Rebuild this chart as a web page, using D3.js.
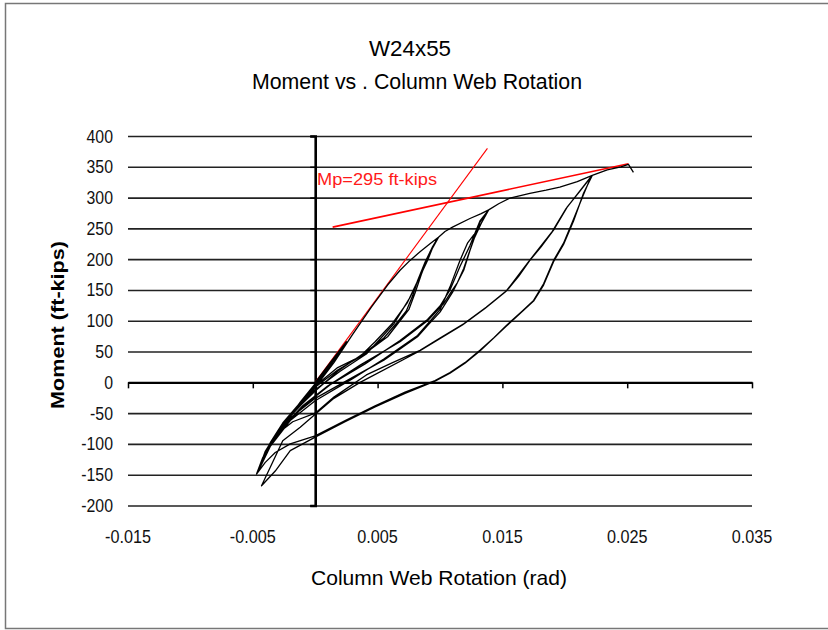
<!DOCTYPE html>
<html>
<head>
<meta charset="utf-8">
<script src="https://cdn.jsdelivr.net/npm/d3@7"></script>
<style>
  body { margin: 0; background: #fff; }
  svg { display: block; }
  text { font-family: "Liberation Sans", Arial, sans-serif; fill: #111; }
</style>
</head>
<body>
<div id="chart"></div>
<script>
// axis ticks
const xTicks = [-0.015, -0.005, 0.005, 0.015, 0.025, 0.035];
const yTicks = [-200, -150, -100, -50, 0, 50, 100, 150, 200, 250, 300, 350, 400];

// test history: column web rotation (rad) and moment (ft-kips), in load order
const rotation = [
  0, 0.0012, 0.0025, 0.0012, 0, -0.0012, -0.0022, -0.0012, 0, 0.0013, 0.0025,
  0.0012, 0, -0.0012, -0.0023, -0.0012, 0, 0.0015,
  0.003, 0.0045, 0.0058, 0.0068, 0.0076, 0.0084, 0.0092, 0.0099,
  0.0094, 0.009, 0.0083, 0.0076, 0.0063, 0.005, 0.0041, 0.002, 0, -0.0015, -0.0026, -0.0036, -0.0042, -0.0047,
  -0.0041, -0.0036, -0.0026, -0.0015, 0, 0.0018, 0.0036, 0.0055, 0.0066, 0.0073, 0.0078, 0.0082, 0.0088, 0.0094, 0.0098,
  0.0093, 0.0088, 0.0081, 0.0074, 0.0062, 0.0048, 0.0038, 0.0018, 0, -0.0016, -0.0028, -0.0038, -0.0046,
  -0.004, -0.0034, -0.0024, -0.0013, 0, 0.0018, 0.0038, 0.0058, 0.0068, 0.0075, 0.008, 0.0085, 0.0092, 0.0099,
  0.0104, 0.011, 0.0124, 0.0133, 0.0139,
  0.0133, 0.0127, 0.0119, 0.0114, 0.011, 0.01, 0.009, 0.0082, 0.0068, 0.0055, 0.003, 0, -0.002, -0.0036, -0.0047,
  -0.004, -0.0032, -0.002, -0.001, 0.001, 0.0036, 0.0068, 0.009, 0.0103, 0.011, 0.0114, 0.0119, 0.0124, 0.0132, 0.0138,
  0.0131, 0.0122, 0.0116, 0.0108, 0.01, 0.0082, 0.0055, 0.003, 0, -0.002, -0.0036, -0.0046,
  -0.004, -0.0031, -0.002, -0.0008, 0.0012, 0.004, 0.0068, 0.009, 0.01, 0.0108, 0.0116, 0.0124, 0.0132, 0.0139,
  0.0147, 0.0156, 0.0172, 0.0185, 0.0196, 0.021, 0.0222,
  0.0212, 0.0202, 0.0191, 0.0181, 0.0172, 0.0163, 0.0154, 0.0137, 0.0119, 0.01, 0.0084, 0.0062, 0.0041, 0.0015, 0, -0.0018, -0.0028, -0.0036, -0.0042, -0.0047,
  -0.004, -0.0032, -0.002, 0, 0.0024, 0.0048, 0.0072, 0.0096, 0.0108, 0.0120, 0.0132, 0.0143, 0.0153, 0.0166, 0.0175, 0.0183, 0.0191, 0.0199, 0.0206, 0.0215, 0.0221,
  0.0211, 0.0201, 0.019, 0.0171, 0.0153, 0.0136, 0.0118, 0.0083, 0.0036, 0.0015, 0, -0.0012, -0.0026, -0.0036, -0.0043,
  -0.0032, -0.002, 0, 0.0024, 0.0048, 0.0072, 0.0096, 0.0108, 0.012, 0.0132, 0.0153, 0.0175, 0.0183, 0.0191, 0.0199, 0.0207, 0.0215, 0.0222,
  0.0234, 0.0245, 0.0251, 0.0255
];
const moment = [
  0, 32, 66, 30, -2, -32, -60, -36, -6, 30, 64,
  28, -4, -34, -62, -38, -8, 32,
  78, 122, 158, 182, 198, 212, 225, 236,
  218, 198, 168, 138, 95, 66, 46, 18, -12, -42, -68, -100, -122, -149,
  -118, -98, -66, -40, -6, 24, 42, 72, 98, 116, 140, 165, 195, 220, 234,
  214, 190, 160, 130, 96, 66, 46, 18, -14, -46, -76, -108, -145,
  -112, -92, -62, -38, -8, 20, 44, 74, 100, 118, 145, 175, 212, 236,
  245, 252, 266, 274, 280,
  258, 232, 185, 162, 146, 114, 92, 74, 54, 36, 8, -26, -58, -102, -149,
  -116, -88, -60, -38, -6, 28, 66, 100, 128, 150, 162, 182, 214, 260, 278,
  250, 226, 198, 155, 118, 76, 38, 6, -30, -62, -104, -146,
  -114, -86, -62, -36, -4, 30, 68, 102, 124, 150, 188, 222, 262, 280,
  290, 299, 307, 312, 317, 326, 336,
  310, 285, 247, 220, 198, 172, 150, 122, 95, 72, 52, 32, 12, -24, -50, -64, -80, -102, -126, -149,
  -130, -114, -100, -87, -62, -38, -16, 3, 16, 32, 52, 72, 92, 116, 133, 160, 198, 226, 260, 305, 334,
  308, 282, 245, 196, 148, 120, 93, 50, 0, -26, -52, -73, -95, -138, -168,
  -144, -111, -89, -64, -40, -18, 2, 15, 31, 51, 91, 132, 158, 196, 224, 262, 307, 336,
  345, 350, 354, 341
];

// red reference lines
const elasticLine = [[0, 0], [0.0138, 380]];
const plasticLine = [[0.0014, 252], [0.0251, 355]];
const plasticLabel = "Mp=295 ft-kips";

const W = 828, H = 630;
const svg = d3.select("#chart").append("svg")
  .attr("width", W).attr("height", H);

// squeeze text horizontally (the original uses a condensed face)
function narrow(sel, k) {
  sel.each(function () {
    const w = this.getComputedTextLength();
    d3.select(this).attr("textLength", w * k).attr("lengthAdjust", "spacingAndGlyphs");
  });
}

// outer frame (left, top, bottom edges visible)
svg.append("path")
  .attr("d", "M828,3.5 H5.5 V628.5 H828")
  .attr("fill", "none").attr("stroke", "#777").attr("stroke-width", 1.5);

const x = d3.scaleLinear().domain([-0.015, 0.035]).range([128, 752]);
const y = d3.scaleLinear().domain([-200, 400]).range([505.5, 136]);

// horizontal gridlines
svg.append("g")
  .attr("transform", "translate(" + x(-0.015) + ",0)")
  .call(d3.axisLeft(y).tickValues(yTicks).tickSize(-(x(0.035) - x(-0.015))).tickFormat(""))
  .call(g => g.select(".domain").remove())
  .call(g => g.selectAll("line").attr("stroke", "#222").attr("stroke-width", 1.6));

// y tick labels
svg.append("g").selectAll("text")
  .data(yTicks).join("text")
  .attr("x", 113).attr("y", d => y(d) + 6.5)
  .attr("text-anchor", "end")
  .style("font-size", "18px")
  .text(d => d)
  .call(narrow, 0.88);

// x tick labels
svg.append("g").selectAll("text")
  .data(xTicks).join("text")
  .attr("x", d => x(d)).attr("y", 543)
  .attr("text-anchor", "middle")
  .style("font-size", "18px")
  .text(d => d3.format(".3f")(d).replace("−", "-"))
  .call(narrow, 0.9);

// vertical axis at x=0
svg.append("g")
  .attr("transform", "translate(" + x(0) + ",0)")
  .call(d3.axisLeft(y).tickValues(yTicks).tickSize(5).tickFormat(""))
  .call(g => g.select(".domain").attr("stroke", "#000").attr("stroke-width", 2.6))
  .call(g => g.selectAll("line").attr("stroke", "#000").attr("stroke-width", 1.5));

// horizontal axis at M=0
svg.append("g")
  .attr("transform", "translate(0," + y(0) + ")")
  .call(d3.axisBottom(x).tickValues(xTicks).tickSize(6).tickSizeOuter(0).tickFormat(""))
  .call(g => g.select(".domain").attr("stroke", "#000").attr("stroke-width", 2.4))
  .call(g => g.selectAll("line").attr("stroke", "#000").attr("stroke-width", 1.5));

// red reference lines
const line = d3.line().x(d => x(d[0])).y(d => y(d[1]));
svg.append("path").datum(elasticLine)
  .attr("d", line).attr("fill", "none").attr("stroke", "#ff0000").attr("stroke-width", 1.1);
svg.append("path").datum(plasticLine)
  .attr("d", line).attr("fill", "none").attr("stroke", "#ff0000").attr("stroke-width", 1.6);

// hysteresis curve
const pts = rotation.map((r, i) => [r, moment[i]]);
svg.append("path").datum(pts)
  .attr("d", line).attr("fill", "none")
  .attr("stroke", "#000").attr("stroke-width", 1.3).attr("stroke-linejoin", "round");

svg.append("text")
  .attr("x", 317).attr("y", 185)
  .style("font-size", "17px").style("fill", "#ff1a1a")
  .attr("textLength", 120).attr("lengthAdjust", "spacingAndGlyphs")
  .text(plasticLabel);

// titles
svg.append("text")
  .attr("x", 410).attr("y", 56).attr("text-anchor", "middle")
  .style("font-size", "22px").style("fill", "#000")
  .attr("textLength", 82).attr("lengthAdjust", "spacingAndGlyphs")
  .text("W24x55");
svg.append("text")
  .attr("x", 417).attr("y", 89).attr("text-anchor", "middle")
  .style("font-size", "22px").style("fill", "#000")
  .attr("textLength", 330).attr("lengthAdjust", "spacingAndGlyphs")
  .text("Moment vs . Column Web Rotation");

svg.append("text")
  .attr("x", 439).attr("y", 585).attr("text-anchor", "middle")
  .style("font-size", "21px").style("fill", "#000")
  .attr("textLength", 256).attr("lengthAdjust", "spacingAndGlyphs")
  .text("Column Web Rotation (rad)");

svg.append("text")
  .attr("transform", "translate(64,325) rotate(-90)")
  .attr("text-anchor", "middle")
  .style("font-size", "18px").style("font-weight", "bold").style("fill", "#000")
  .attr("textLength", 168).attr("lengthAdjust", "spacingAndGlyphs")
  .text("Moment (ft-kips)");
</script>
</body>
</html>
